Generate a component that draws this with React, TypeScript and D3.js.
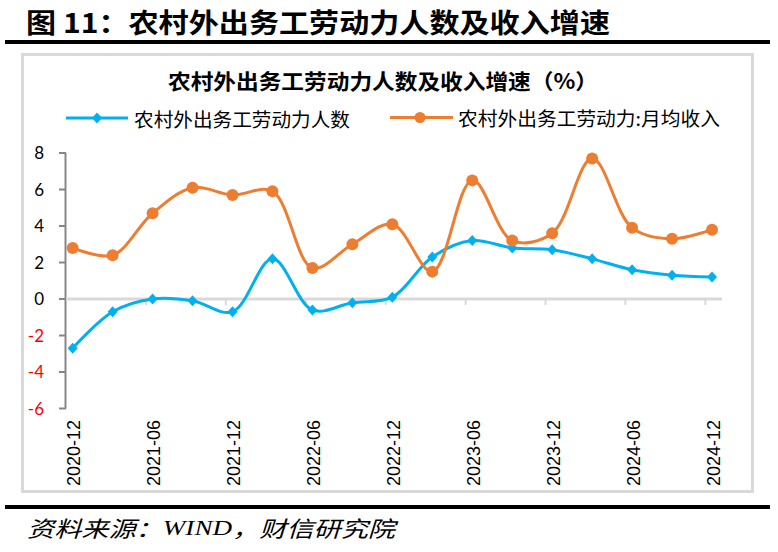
import React, { useEffect, useRef } from 'react';
import * as d3 from 'd3';

// Quarterly observations, year-on-year growth (%)
const quarters = [
  '2020-12', '2021-03', '2021-06', '2021-09', '2021-12', '2022-03',
  '2022-06', '2022-09', '2022-12', '2023-03', '2023-06', '2023-09',
  '2023-12', '2024-03', '2024-06', '2024-09', '2024-12',
];
const workerGrowth = [
  -2.7, -0.7, 0.0, -0.1, -0.7, 2.2, -0.6, -0.2, 0.1, 2.3, 3.2, 2.8, 2.7, 2.2,
  1.6, 1.3, 1.2,
];
const incomeGrowth = [
  2.8, 2.4, 4.7, 6.1, 5.7, 5.9, 1.7, 3.0, 4.1, 1.5, 6.5, 3.2, 3.6, 7.7, 3.9,
  3.3, 3.8,
];
const axisLabels = [
  '2020-12', '2021-06', '2021-12', '2022-06', '2022-12', '2023-06',
  '2023-12', '2024-06', '2024-12',
];
const yTicks = [8, 6, 4, 2, 0, -2, -4, -6];

const seriesNames = ['农村外出务工劳动力人数', '农村外出务工劳动力:月均收入'];
const figureTitle = '图 11：农村外出务工劳动力人数及收入增速';
const chartTitle = '农村外出务工劳动力人数及收入增速（%）';

const BLUE = '#00b0f0';
const ORANGE = '#ed7d31';
const CJK = '"Noto Sans CJK SC", sans-serif';

// months since 2020-12
const monthIndex = (s: string) => {
  const [y, m] = s.split('-').map(Number);
  return (y - 2020) * 12 + m - 12;
};

const diamond = 'M0,-5.5L5,0L0,5.5L-5,0Z';

export default function App() {
  const ref = useRef<SVGSVGElement>(null);

  useEffect(() => {
    const svg = d3.select(ref.current);
    svg.selectAll('*').remove();

    const x = d3.scaleLinear().domain([-0.5, 48.75]).range([66, 722]);
    const y = d3.scaleLinear().domain([-6, 8]).range([408.5, 153]);

    svg.append('rect').attr('width', 778).attr('height', 552).attr('fill', '#fff');

    // heading
    svg
      .append('text')
      .attr('x', 26)
      .attr('y', 21)
      .attr('dominant-baseline', 'central')
      .attr('textLength', 584)
      .attr('lengthAdjust', 'spacingAndGlyphs')
      .style('font-family', CJK)
      .style('font-size', '27px')
      .style('font-weight', 'bold')
      .text(figureTitle);

    svg.append('line').attr('x1', 5).attr('x2', 770).attr('y1', 42).attr('y2', 42)
      .attr('stroke', '#000').attr('stroke-width', 4);

    // chart frame
    svg
      .append('rect')
      .attr('x', 22.5)
      .attr('y', 54.5)
      .attr('width', 730)
      .attr('height', 437)
      .attr('fill', '#fff')
      .attr('stroke', '#d9d9d9')
      .attr('stroke-width', 3);

    svg
      .append('text')
      .attr('x', 383)
      .attr('y', 80)
      .attr('text-anchor', 'middle')
      .attr('dominant-baseline', 'central')
      .attr('textLength', 430)
      .attr('lengthAdjust', 'spacingAndGlyphs')
      .style('font-family', CJK)
      .style('font-size', '21px')
      .style('font-weight', 'bold')
      .text(chartTitle);

    // legend
    const legend = svg.append('g').attr('class', 'legend');
    const blueItem = legend.append('g').attr('transform', 'translate(0,118)');
    blueItem.append('line').attr('x1', 66).attr('x2', 128)
      .attr('stroke', BLUE).attr('stroke-width', 3);
    blueItem.append('path').attr('d', diamond).attr('transform', 'translate(97,0)').attr('fill', BLUE);
    blueItem
      .append('text')
      .attr('x', 134)
      .attr('dominant-baseline', 'central')
      .attr('textLength', 216)
      .attr('lengthAdjust', 'spacingAndGlyphs')
      .style('font-family', CJK)
      .style('font-size', '19px')
      .text(seriesNames[0]);

    const orangeItem = legend.append('g').attr('transform', 'translate(0,117.5)');
    orangeItem.append('line').attr('x1', 390).attr('x2', 453)
      .attr('stroke', ORANGE).attr('stroke-width', 3);
    orangeItem.append('circle').attr('cx', 420).attr('r', 5.5).attr('fill', ORANGE);
    orangeItem
      .append('text')
      .attr('x', 458)
      .attr('dominant-baseline', 'central')
      .attr('textLength', 262)
      .attr('lengthAdjust', 'spacingAndGlyphs')
      .style('font-family', CJK)
      .style('font-size', '19px')
      .text(seriesNames[1]);

    // y axis
    const yAxis = svg.append('g').attr('class', 'y-axis');
    yAxis.append('line').attr('x1', 65.5).attr('x2', 65.5)
      .attr('y1', y(8)).attr('y2', y(-6)).attr('stroke', '#868686').attr('stroke-width', 2);
    yAxis
      .selectAll('.tick')
      .data(yTicks)
      .enter()
      .append('line')
      .attr('x1', 59)
      .attr('x2', 66)
      .attr('y1', (d) => y(d))
      .attr('y2', (d) => y(d))
      .attr('stroke', '#868686')
      .attr('stroke-width', 2);
    yAxis
      .selectAll('.tick-label')
      .data(yTicks)
      .enter()
      .append('text')
      .attr('x', 44)
      .attr('y', (d) => y(d))
      .attr('dy', '0.36em')
      .attr('text-anchor', 'end')
      .style('font-family', 'Lato, sans-serif')
      .style('font-size', '17px')
      .style('fill', (d) => (d < 0 ? '#ff0000' : '#000'))
      .text((d) => d);

    // zero line with category ticks
    const xAxis = svg.append('g').attr('class', 'x-axis');
    xAxis.append('line').attr('x1', 66).attr('x2', 722)
      .attr('y1', y(0)).attr('y2', y(0)).attr('stroke', '#d9d9d9').attr('stroke-width', 3);
    xAxis
      .selectAll('.tick')
      .data(axisLabels.slice(1))
      .enter()
      .append('line')
      .attr('x1', (d) => x(monthIndex(d) - 0.5))
      .attr('x2', (d) => x(monthIndex(d) - 0.5))
      .attr('y1', y(0))
      .attr('y2', y(0) + 6)
      .attr('stroke', '#d9d9d9')
      .attr('stroke-width', 2);
    xAxis
      .selectAll('.tick-label')
      .data(axisLabels)
      .enter()
      .append('text')
      .attr('transform', (d) => `translate(${x(monthIndex(d)) + 1.5},420) rotate(-90)`)
      .attr('dy', '0.35em')
      .attr('text-anchor', 'end')
      .style('font-family', '"Liberation Sans", Arial, sans-serif')
      .style('font-size', '18px')
      .text((d) => d);

    // series
    const line = d3
      .line<number>()
      .x((_, i) => x(monthIndex(quarters[i])))
      .y((d) => y(d))
      .curve(d3.curveCatmullRom.alpha(0.5));

    svg.append('path').datum(workerGrowth).attr('d', line)
      .attr('fill', 'none').attr('stroke', BLUE).attr('stroke-width', 3);
    svg.append('path').datum(incomeGrowth).attr('d', line)
      .attr('fill', 'none').attr('stroke', ORANGE).attr('stroke-width', 3);

    svg
      .append('g')
      .selectAll('path')
      .data(workerGrowth)
      .enter()
      .append('path')
      .attr('d', diamond)
      .attr('transform', (d, i) => `translate(${x(monthIndex(quarters[i]))},${y(d)})`)
      .attr('fill', BLUE);

    svg
      .append('g')
      .selectAll('circle')
      .data(incomeGrowth)
      .enter()
      .append('circle')
      .attr('cx', (_, i) => x(monthIndex(quarters[i])))
      .attr('cy', (d) => y(d))
      .attr('r', 6)
      .attr('fill', ORANGE);

    // footer
    svg.append('line').attr('x1', 5).attr('x2', 770).attr('y1', 507).attr('y2', 507)
      .attr('stroke', '#000').attr('stroke-width', 4);

    const source = svg
      .append('text')
      .attr('x', 27)
      .attr('y', 527)
      .attr('dominant-baseline', 'central')
      .attr('textLength', 368)
      .attr('lengthAdjust', 'spacingAndGlyphs')
      .style('font-size', '22px')
      .style('font-style', 'italic')
      .style('font-family', CJK);
    source.append('tspan').text('资料来源：');
    source.append('tspan').style('font-family', '"Liberation Serif", serif').text('WIND');
    source.append('tspan').text('，财信研究院');
  }, []);

  return (
    <svg
      ref={ref}
      width={778}
      height={552}
      style={{ position: 'absolute', left: 0, top: 0, display: 'block' }}
    />
  );
}
